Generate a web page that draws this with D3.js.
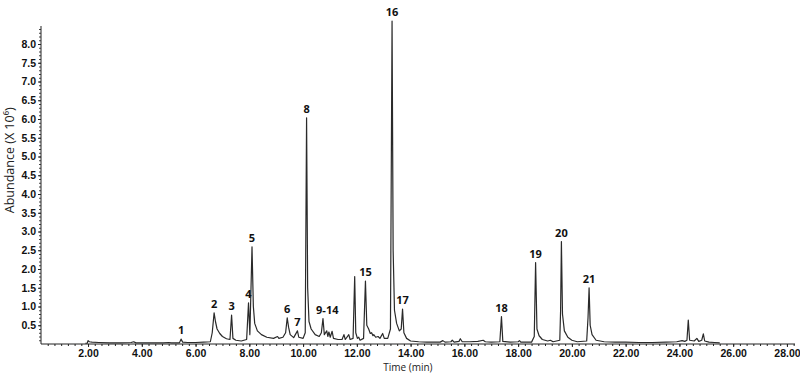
<!DOCTYPE html>
<html>
<head>
<meta charset="utf-8">
<script src="https://cdn.jsdelivr.net/npm/d3@7"></script>
<style>
  body { margin: 0; background: #fff; }
  svg { display: block; font-family: "Open Sans", "DejaVu Sans", sans-serif; }
  .tick text { font-size: 10.5px; font-weight: 700; fill: #111; }
  .peak-label { font-size: 11px; font-weight: 700; fill: #111; }
  .axis-title { font-size: 10px; fill: #222; }
  .y-title { font-size: 12.5px; }
</style>
</head>
<body>
<svg id="chart" width="800" height="375"></svg>
<script>
/* ── Data ───────────────────────────────────────────────────────── */
/* Chromatogram trace: time (min), abundance (x10^6) */
const traceTime = [
  1.90, 1.97, 2.00, 2.05, 2.15, 2.40, 2.80, 3.20, 3.60, 3.70, 3.78, 4.20, 4.80, 5.00, 5.10,
  5.40, 5.46, 5.52, 5.70, 6.00, 6.30, 6.55, 6.62, 6.69, 6.74, 6.80, 6.90, 7.00, 7.15, 7.28,
  7.34, 7.39, 7.50, 7.70, 7.90, 7.97, 8.02, 8.10, 8.15, 8.20, 8.30, 8.45, 8.65, 8.90, 9.05,
  9.10, 9.25, 9.35, 9.41, 9.46, 9.52, 9.65, 9.79, 9.84, 10.00, 10.08, 10.13, 10.17, 10.22, 10.30,
  10.45, 10.60, 10.68, 10.74, 10.79, 10.88, 10.92, 10.96, 11.01, 11.08, 11.13, 11.30, 11.45, 11.52, 11.57,
  11.70, 11.75, 11.86, 11.92, 11.96, 12.02, 12.07, 12.12, 12.25, 12.32, 12.37, 12.44, 12.50, 12.55, 12.60,
  12.63, 12.70, 12.79, 12.86, 12.96, 13.02, 13.15, 13.25, 13.31, 13.35, 13.40, 13.48, 13.58, 13.65, 13.70,
  13.75, 13.85, 14.00, 14.30, 14.60, 15.10, 15.20, 15.28, 15.50, 15.55, 15.62, 15.80, 15.85, 15.92, 16.20,
  16.50, 16.70, 16.78, 17.00, 17.32, 17.38, 17.43, 17.70, 18.00, 18.05, 18.10, 18.50, 18.60, 18.65, 18.70,
  18.78, 18.90, 19.10, 19.20, 19.30, 19.55, 19.58, 19.61, 19.65, 19.72, 19.85, 20.00, 20.20, 20.55, 20.60,
  20.64, 20.68, 20.75, 20.90, 21.20, 21.60, 22.00, 22.50, 23.00, 23.50, 23.90, 24.10, 24.20, 24.28, 24.33,
  24.38, 24.55, 24.65, 24.72, 24.83, 24.89, 24.94, 25.10, 25.30, 25.50
];
const traceAbundance = [
  0.02, 0.02, 0.09, 0.06, 0.05, 0.04, 0.03, 0.03, 0.04, 0.06, 0.03, 0.03, 0.03, 0.04, 0.03,
  0.03, 0.13, 0.05, 0.04, 0.04, 0.05, 0.06, 0.30, 0.83, 0.60, 0.40, 0.28, 0.20, 0.14, 0.12,
  0.77, 0.15, 0.10, 0.08, 0.12, 1.10, 0.25, 2.59, 1.00, 0.55, 0.35, 0.25, 0.18, 0.15, 0.20,
  0.15, 0.18, 0.30, 0.70, 0.45, 0.25, 0.17, 0.35, 0.18, 0.15, 0.30, 6.03, 1.50, 0.60, 0.40,
  0.25, 0.20, 0.30, 0.68, 0.25, 0.35, 0.20, 0.32, 0.18, 0.34, 0.15, 0.12, 0.12, 0.25, 0.12,
  0.25, 0.12, 0.15, 1.80, 0.30, 0.15, 0.18, 0.10, 0.15, 1.68, 0.50, 0.40, 0.28, 0.30, 0.22,
  0.25, 0.18, 0.20, 0.15, 0.28, 0.15, 0.15, 0.40, 8.61, 2.50, 0.90, 0.55, 0.35, 0.40, 0.93,
  0.30, 0.15, 0.08, 0.06, 0.05, 0.05, 0.09, 0.05, 0.06, 0.10, 0.05, 0.07, 0.14, 0.06, 0.06,
  0.07, 0.10, 0.06, 0.05, 0.06, 0.73, 0.07, 0.05, 0.06, 0.09, 0.05, 0.05, 0.20, 2.17, 0.40,
  0.22, 0.12, 0.08, 0.10, 0.06, 0.10, 0.90, 2.73, 0.80, 0.35, 0.18, 0.10, 0.06, 0.08, 0.70,
  1.50, 0.50, 0.25, 0.10, 0.06, 0.05, 0.05, 0.04, 0.04, 0.05, 0.06, 0.09, 0.07, 0.10, 0.64,
  0.10, 0.08, 0.15, 0.07, 0.10, 0.27, 0.08, 0.05, 0.04, 0.03
];

/* Peak labels: text, retention time, apex abundance */
const peakLabels = ["1", "2", "3", "4", "5", "6", "7", "8", "9-14", "15", "16", "17", "18", "19", "20", "21"];
const peakTimes  = [5.46, 6.69, 7.34, 7.97, 8.10, 9.41, 9.79, 10.13, 10.90, 12.32, 13.31, 13.70, 17.38, 18.65, 19.61, 20.64];
const peakApex   = [0.13, 0.83, 0.77, 1.10, 2.59, 0.70, 0.35, 6.03, 0.68, 1.68, 8.61, 0.93, 0.73, 2.17, 2.73, 1.50];

/* Axis ticks */
const xTickValues = [2, 4, 6, 8, 10, 12, 14, 16, 18, 20, 22, 24, 26, 28];
const yTickValues = [0.5, 1.0, 1.5, 2.0, 2.5, 3.0, 3.5, 4.0, 4.5, 5.0, 5.5, 6.0, 6.5, 7.0, 7.5, 8.0];

/* ── Scales ─────────────────────────────────────────────────────── */
const svg = d3.select("#chart");
const x = d3.scaleLinear().domain([0.25, 28.3]).range([41, 795]);
const y = d3.scaleLinear().domain([0, 8.48]).range([344, 26]);

/* ── X axis: major labelled ticks + minor ticks ─────────────────── */
const minorX = d3.range(0.5, 28.3, 0.25);
svg.append("g")
  .attr("transform", `translate(0,${y(0)})`)
  .call(d3.axisBottom(x).tickValues(minorX).tickSize(2).tickFormat(""))
  .call(g => g.select(".domain").remove())
  .call(g => g.selectAll("line").attr("stroke", "#222"));

svg.append("g")
  .attr("transform", `translate(0,${y(0)})`)
  .call(d3.axisBottom(x).tickValues(xTickValues).tickSize(3).tickPadding(3)
    .tickFormat(d3.format(".2f")))
  .call(g => g.select(".domain").attr("stroke", "#222").attr("d", `M${x.range()[0]},0H${x.range()[1]}`))
  .call(g => g.selectAll("line").attr("stroke", "#222"));

/* ── Y axis ──────────────────────────────────────────────────────── */
const minorY = d3.range(0.1, 8.45, 0.1);
svg.append("g")
  .attr("transform", `translate(${x(0.25)},0)`)
  .call(d3.axisLeft(y).tickValues(minorY).tickSize(2).tickFormat(""))
  .call(g => g.select(".domain").remove())
  .call(g => g.selectAll("line").attr("stroke", "#444"));

svg.append("g")
  .attr("transform", `translate(${x(0.25)},0)`)
  .call(d3.axisLeft(y).tickValues(yTickValues).tickSize(3).tickPadding(2)
    .tickFormat(d3.format(".1f")))
  .call(g => g.select(".domain").attr("stroke", "#222").attr("d", `M0,${y(0)}V${y.range()[1]}`))
  .call(g => g.selectAll("line").attr("stroke", "#222"));

/* ── Axis titles ─────────────────────────────────────────────────── */
svg.append("text")
  .attr("class", "axis-title y-title")
  .attr("text-anchor", "middle")
  .attr("transform", `translate(14,${y(4.9)}) rotate(-90)`)
  .text("Abundance (X 10⁶)");

svg.append("text")
  .attr("class", "axis-title")
  .attr("text-anchor", "middle")
  .attr("x", x(13.9))
  .attr("y", 371)
  .text("Time (min)");

/* ── Trace ───────────────────────────────────────────────────────── */
const trace = traceTime.map((t, i) => [t, traceAbundance[i]]);
svg.append("path")
  .datum(trace)
  .attr("fill", "none")
  .attr("stroke", "#2a2a2a")
  .attr("stroke-width", 1.2)
  .attr("stroke-linejoin", "round")
  .attr("d", d3.line().x(d => x(d[0])).y(d => y(d[1])));

/* ── Peak labels ─────────────────────────────────────────────────── */
svg.append("g")
  .selectAll("text")
  .data(peakLabels)
  .enter().append("text")
    .attr("class", "peak-label")
    .attr("text-anchor", "middle")
    .attr("x", (d, i) => x(peakTimes[i]))
    .attr("y", (d, i) => y(peakApex[i]) - 5)
    .text(d => d);
</script>
</body>
</html>
